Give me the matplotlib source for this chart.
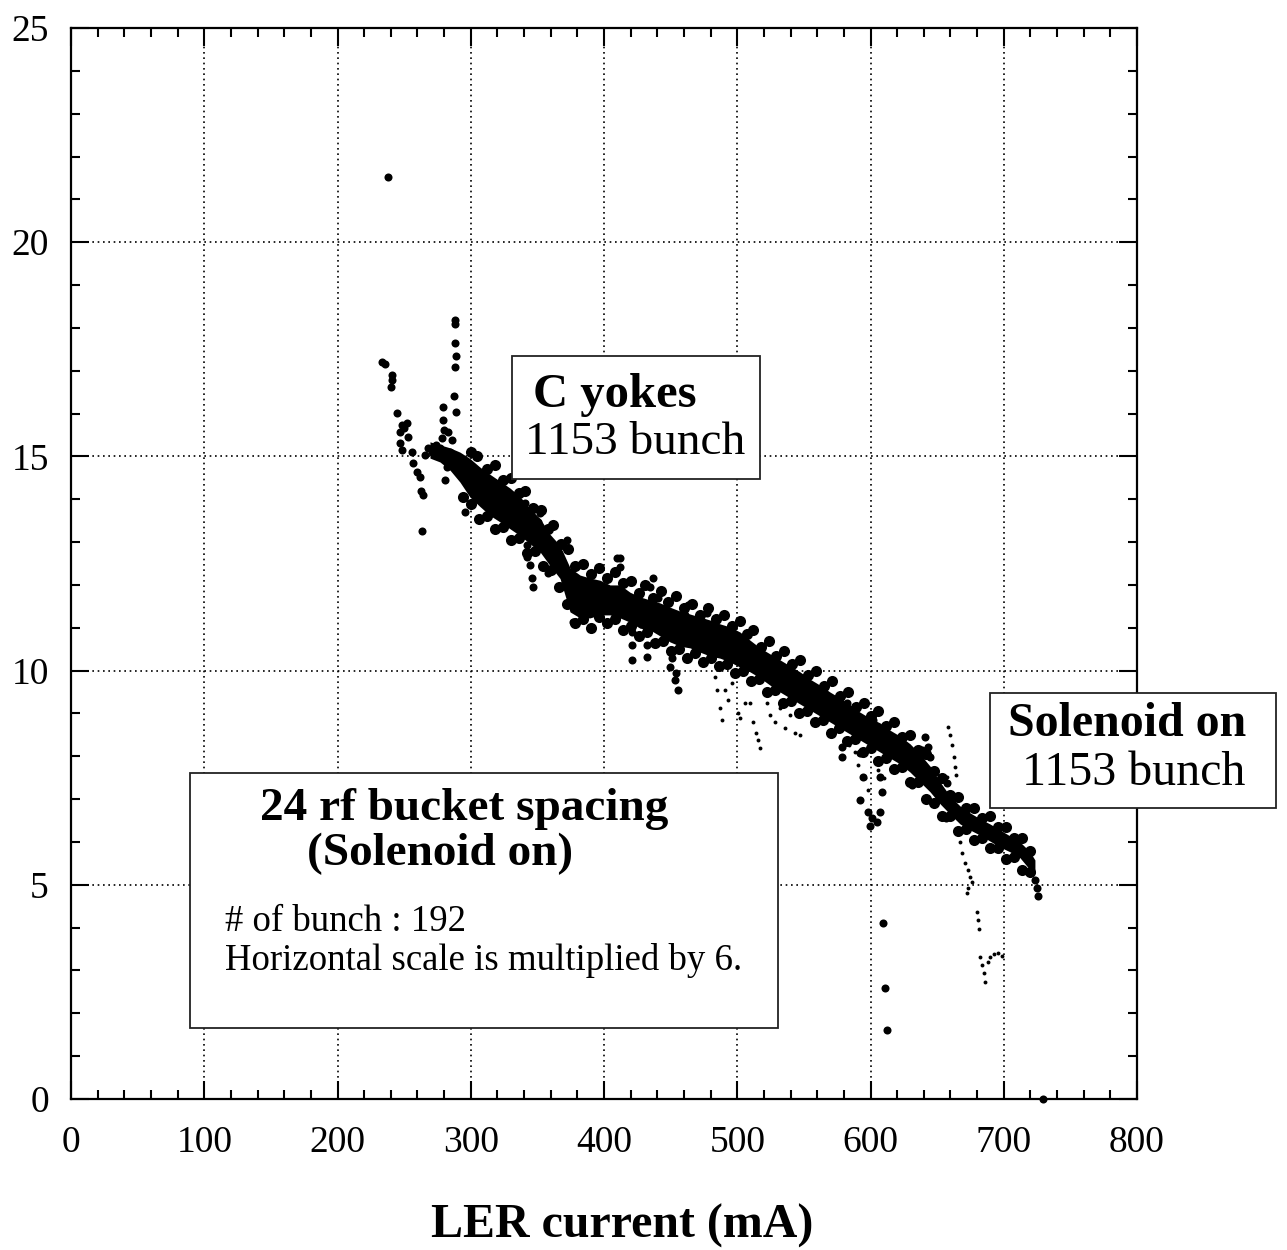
import matplotlib
matplotlib.use("Agg")
import matplotlib.pyplot as plt
from matplotlib.patches import Rectangle
from matplotlib.ticker import MultipleLocator

plt.rcParams['font.family'] = ['Liberation Serif', 'DejaVu Serif']

# ---- data -----------------------------------------------------------------
# Dense core of the 1153-bunch (C yokes / solenoid on) measurement:
# lower and upper edge of the solid band vs. LER current (mA)
band_x = [269.4, 276.9, 284.4, 291.9, 299.4, 306.9, 314.5, 322.0, 329.5, 337.0,
          344.5, 352.0, 359.5, 367.0, 374.5, 382.0, 389.5, 397.0, 404.5, 412.0,
          419.5, 427.0, 434.5, 442.0, 449.5, 457.0, 464.6, 472.1, 479.6, 487.1,
          494.6, 502.1, 509.6, 517.1, 524.6, 532.1, 539.6, 547.1, 554.6, 562.1,
          569.6, 577.1, 584.6, 592.1, 599.6, 607.1, 614.6, 622.2, 629.7, 637.2,
          644.7, 652.2, 659.7, 667.2, 674.7, 682.2, 689.7, 697.2, 704.7, 712.2,
          719.7, 723.4]
band_hi = [15.34, 15.27, 15.20, 15.10, 14.95, 14.75, 14.58, 14.42, 14.26, 14.06,
           13.78, 13.55, 13.18, 12.92, 12.40, 12.23, 12.16, 12.11, 12.00, 12.00,
           11.83, 11.72, 11.65, 11.58, 11.48, 11.39, 11.32, 11.25, 11.18, 11.09,
           11.02, 10.90, 10.71, 10.53, 10.39, 10.25, 10.11, 9.97, 9.80, 9.66,
           9.50, 9.36, 9.20, 9.03, 8.89, 8.78, 8.61, 8.47, 8.29, 8.05,
           7.77, 7.40, 7.07, 6.84, 6.68, 6.54, 6.42, 6.28, 6.14, 6.00,
           5.77, 5.58]
band_lo = [14.96, 14.87, 14.68, 14.40, 14.05, 13.83, 13.62, 13.47, 13.31, 13.15,
           12.96, 12.77, 12.45, 12.15, 11.37, 11.23, 11.23, 11.30, 11.30, 11.23,
           11.13, 10.99, 10.95, 10.81, 10.67, 10.57, 10.53, 10.43, 10.34, 10.29,
           10.20, 10.08, 9.97, 9.83, 9.66, 9.50, 9.36, 9.22, 9.08, 8.94,
           8.80, 8.66, 8.52, 8.38, 8.24, 8.10, 7.96, 7.82, 7.63, 7.40,
           7.17, 6.89, 6.65, 6.42, 6.28, 6.16, 6.02, 5.88, 5.77, 5.63,
           5.35, 5.25]

# Points along the upper and lower edge of the band
edge_hi_x = [300, 305, 312, 318, 324, 330, 336, 341, 347, 353, 358, 362, 368, 373,
             378, 384, 390, 396, 402, 408, 414, 420, 426, 431, 437, 443, 448, 454,
             460, 466, 472, 478, 484, 490, 496, 502, 507, 512, 518, 524, 529, 535,
             541, 547, 553, 559, 565, 571, 577, 583, 589, 595, 600, 606, 612, 618,
             624, 630, 636, 642, 648, 654, 660, 666, 672, 678, 684, 690, 696, 702,
             708, 714, 720]
edge_hi_y = [15.10, 15.00, 14.70, 14.80, 14.45, 14.50, 14.15, 14.20, 13.80, 13.75,
             13.30, 13.40, 12.95, 12.85, 12.45, 12.50, 12.25, 12.40, 12.15, 12.30,
             12.05, 12.10, 11.80, 12.00, 11.70, 11.85, 11.60, 11.75, 11.45, 11.55,
             11.30, 11.45, 11.20, 11.30, 11.05, 11.15, 10.85, 10.95, 10.55, 10.70,
             10.35, 10.45, 10.15, 10.25, 9.90, 10.00, 9.65, 9.75, 9.40, 9.50,
             9.15, 9.25, 8.95, 9.05, 8.70, 8.80, 8.45, 8.50, 8.15, 8.05,
             7.65, 7.50, 7.10, 7.05, 6.80, 6.80, 6.55, 6.60, 6.35, 6.35,
             6.10, 6.10, 5.80]
edge_lo_x = [294, 300, 306, 312, 318, 324, 330, 336, 342, 348, 354, 360, 366, 372,
             378, 384, 390, 396, 402, 408, 414, 420, 426, 432, 438, 444, 450, 456,
             462, 468, 474, 480, 486, 492, 498, 504, 510, 516, 522, 528, 534, 540,
             546, 552, 558, 564, 570, 576, 582, 588, 594, 600, 606, 612, 618, 624,
             630, 636, 642, 648, 654, 660, 666, 672, 678, 684, 690, 696, 702, 708,
             714, 720]
edge_lo_y = [14.05, 13.90, 13.55, 13.60, 13.30, 13.35, 13.05, 13.10, 12.75, 12.80,
             12.45, 12.35, 11.95, 11.55, 11.10, 11.20, 11.00, 11.25, 11.10, 11.20,
             10.95, 11.05, 10.80, 10.90, 10.65, 10.70, 10.45, 10.50, 10.30, 10.40,
             10.20, 10.30, 10.10, 10.15, 9.95, 10.00, 9.75, 9.80, 9.50, 9.55,
             9.25, 9.30, 9.00, 9.05, 8.80, 8.85, 8.55, 8.65, 8.35, 8.40,
             8.10, 8.20, 7.90, 7.95, 7.70, 7.75, 7.40, 7.40, 7.00, 6.90,
             6.60, 6.60, 6.25, 6.30, 6.05, 6.10, 5.85, 5.85, 5.60, 5.65,
             5.35, 5.30]

# Isolated points of the 1153-bunch data
pts_x = [238.0, 233.1, 235.5, 240.7, 239.9, 240.9, 288.2, 288.2, 288.2, 288.6,
         288.2, 287.1, 288.9, 244.4, 248.2, 251.9, 253.1, 246.9, 249.9, 246.9,
         248.2, 255.7, 256.9, 259.4, 261.9, 262.5, 263.8, 263.2, 279.4, 279.4,
         279.9, 278.4, 281.9, 290.7, 280.7, 273.9, 270.9, 276.9, 265.7, 268.0,
         284.4, 285.9, 282.9, 316.9, 295.7, 318.2, 340.7, 352.0, 350.5, 342.0,
         342.2, 344.5, 346.9, 345.8, 352.0, 352.0, 359.5, 358.0, 370.7, 372.0,
         377.0, 412.0, 412.0, 436.8, 434.5, 420.8, 420.8, 420.8, 432.1, 432.1,
         432.1, 449.5, 453.3, 455.5, 451.0, 454.0, 463.0, 477.3, 440.5, 460.8,
         409.5, 582.4, 601.9, 578.6, 578.6, 592.1, 594.4, 592.1, 598.1, 601.1,
         604.9, 599.6, 607.1, 607.1, 608.6, 640.9, 643.2, 638.7, 637.2, 644.7,
         631.2, 657.4, 656.7, 609.6, 610.9, 612.2, 729.5, 723.5, 725.0, 725.7]
pts_y = [21.52, 17.21, 17.15, 16.90, 16.63, 16.78, 18.18, 18.09, 17.65, 17.34,
         17.09, 16.41, 16.04, 16.01, 15.73, 15.77, 15.46, 15.58, 15.66, 15.32,
         15.15, 15.11, 14.84, 14.64, 14.53, 14.20, 14.10, 13.26, 16.16, 15.85,
         15.62, 15.43, 14.76, 14.68, 14.45, 15.27, 15.10, 15.20, 15.03, 15.20,
         15.10, 15.38, 15.57, 14.37, 13.71, 14.37, 13.91, 13.68, 13.47, 12.93,
         12.65, 12.46, 11.96, 12.16, 13.21, 12.89, 12.75, 12.28, 12.04, 13.05,
         11.14, 12.63, 12.42, 12.16, 11.95, 10.90, 10.60, 10.25, 10.95, 10.60,
         10.32, 10.08, 9.78, 9.55, 10.30, 9.95, 11.53, 11.34, 11.69, 11.30,
         12.63, 9.24, 8.85, 8.22, 7.98, 8.08, 7.52, 6.98, 6.70, 6.56,
         6.47, 6.37, 6.70, 7.52, 7.17, 8.45, 8.22, 8.15, 7.96, 7.98,
         7.33, 7.38, 6.56, 4.10, 2.59, 1.61, 0.00, 5.11, 4.93, 4.74]

# Faint trails of small points (24 rf bucket spacing, 192 bunches, x6)
fine_x = [483.3, 484.8, 487.1, 488.6, 490.8, 493.1, 496.1, 500.6, 502.1, 505.8,
          509.6, 511.8, 514.1, 515.6, 517.1, 522.3, 524.6, 528.4, 532.1, 535.9,
          539.6, 543.4, 547.1,
          583.9, 588.4, 590.6, 595.9, 598.1, 610.1, 605.6,
          658.2, 659.7, 661.2, 662.7, 663.4, 664.2, 657.4, 664.9, 667.2, 668.7,
          670.9, 673.2, 674.7, 676.2, 673.2, 672.4, 679.9, 680.7, 681.4, 682.2,
          683.7, 685.2, 685.9, 688.2, 689.7, 692.7, 695.7, 698.7]
fine_y = [9.85, 9.55, 9.13, 8.85, 9.55, 9.31, 9.71, 9.01, 8.89, 9.24,
          9.24, 8.80, 8.54, 8.38, 8.19, 9.24, 8.96, 8.80, 9.13, 8.66,
          8.96, 8.54, 8.50,
          8.26, 8.10, 7.80, 7.49, 7.21, 7.49, 7.68,
          8.68, 8.50, 8.26, 7.98, 7.75, 7.56, 7.52, 7.10, 6.00, 5.74,
          5.51, 5.35, 5.18, 5.07, 4.93, 4.81, 4.37, 4.18, 3.97, 3.31,
          3.13, 2.94, 2.73, 3.20, 3.31, 3.38, 3.41, 3.34]

x_ticks = [0, 100, 200, 300, 400, 500, 600, 700, 800]
y_ticks = [0, 5, 10, 15, 20, 25]

# ---- figure ---------------------------------------------------------------
W, H = 1287, 1250
fig = plt.figure(figsize=(W / 100, H / 100), dpi=100)
ax = fig.add_axes([71 / W, 1 - 1099 / H, (1137 - 71) / W, (1099 - 28) / H])

ax.set_xlim(0, 800)
ax.set_ylim(0, 25)
ax.set_xticks(x_ticks)
ax.set_yticks(y_ticks)
ax.xaxis.set_minor_locator(MultipleLocator(20))
ax.yaxis.set_minor_locator(MultipleLocator(1))
ax.tick_params(which='both', direction='in', top=True, right=True,
               width=1.5, color='black', labelsize=27)
ax.tick_params(which='major', length=13)
ax.tick_params(axis='x', which='major', pad=19)
ax.tick_params(axis='y', which='major', pad=16)
ax.tick_params(which='minor', length=6.5)
for s in ax.spines.values():
    s.set_linewidth(1.6)
ax.grid(True, which='major', color='black', linestyle=(0, (1.0, 2.2)),
        linewidth=1.2)
ax.set_axisbelow(True)

ax.fill_between(band_x, band_lo, band_hi, color='black', linewidth=0, zorder=3)
ax.plot(edge_hi_x, edge_hi_y, 'o', color='black', ms=8, mew=0, zorder=4)
ax.plot(edge_lo_x, edge_lo_y, 'o', color='black', ms=8, mew=0, zorder=4)
ax.plot(pts_x, pts_y, 'o', color='black', ms=5.8, mew=0, zorder=4, clip_on=False)
ax.plot(fine_x, fine_y, 'o', color='black', ms=2.8, mew=0, zorder=4)

ax.set_xlabel('LER current (mA)', fontsize=34.5, fontweight='bold')
ax.xaxis.label.set_va('baseline')
ax.xaxis.set_label_coords((622 - 71) / 1066, (1099 - 1238) / 1071)


def fx(px):
    return px / W


def fy(py):
    return 1 - py / H


def box(x0, y0, x1, y1):
    fig.add_artist(Rectangle((fx(x0), fy(y1)), (x1 - x0) / W, (y1 - y0) / H,
                             transform=fig.transFigure, facecolor='white',
                             edgecolor='#222222', linewidth=1.3, zorder=5))


box(512, 356, 760, 479)
fig.text(fx(615), fy(407), 'C yokes', fontsize=35, fontweight='bold',
         ha='center', va='baseline', zorder=6)
fig.text(fx(635), fy(454), '1153 bunch', fontsize=34,
         ha='center', va='baseline', zorder=6)

box(190, 773, 778, 1028)
fig.text(fx(464), fy(820), '24 rf bucket spacing', fontsize=34,
         fontweight='bold', ha='center', va='baseline', zorder=6)
fig.text(fx(440), fy(865), '(Solenoid on)', fontsize=34, fontweight='bold',
         ha='center', va='baseline', zorder=6)
fig.text(fx(225), fy(931), '# of bunch : 192', fontsize=26.5,
         ha='left', va='baseline', zorder=6)
fig.text(fx(225), fy(970), 'Horizontal scale is multiplied by 6.',
         fontsize=26.5, ha='left', va='baseline', zorder=6)

box(990, 693, 1276, 808)
fig.text(fx(1127), fy(736), 'Solenoid on', fontsize=34.5, fontweight='bold',
         ha='center', va='baseline', zorder=6)
fig.text(fx(1134), fy(785), '1153 bunch', fontsize=34.5,
         ha='center', va='baseline', zorder=6)

fig.savefig('out.png', dpi=100, facecolor='white')
